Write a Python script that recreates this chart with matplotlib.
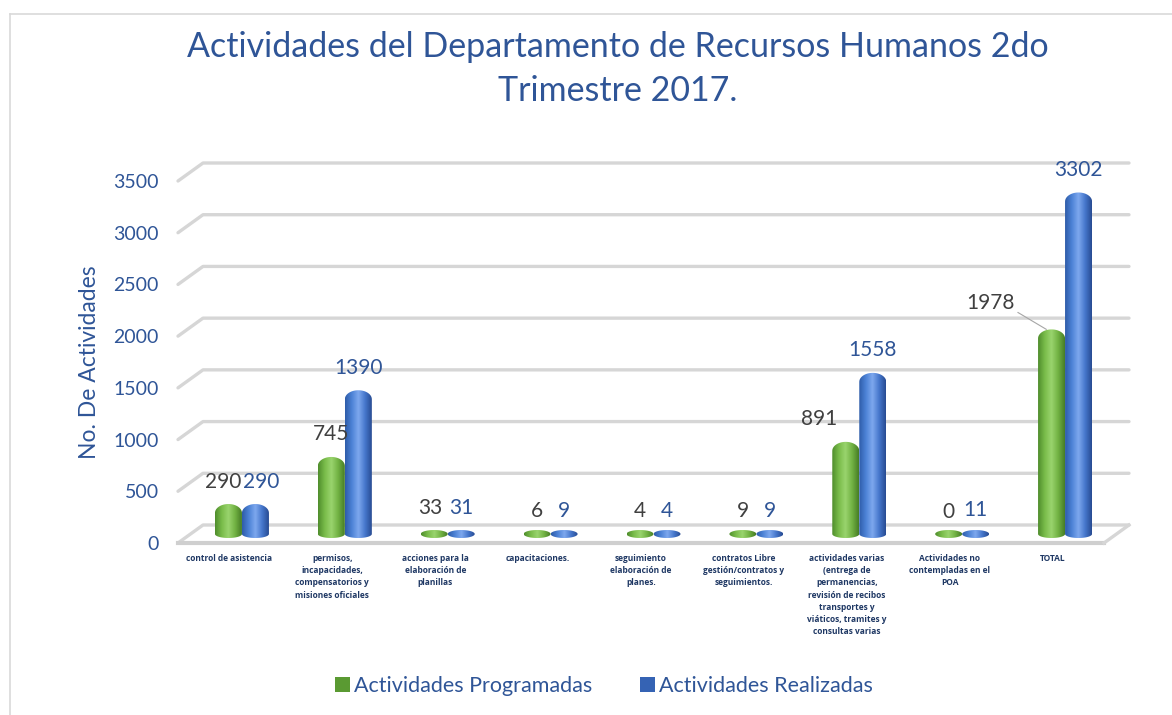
import numpy as np
import matplotlib
matplotlib.use("Agg")
import matplotlib.pyplot as plt
from matplotlib.patches import Polygon, Rectangle
from matplotlib.lines import Line2D
from matplotlib.colors import LinearSegmentedColormap
from matplotlib.transforms import ScaledTranslation

# data
categories = [
    "control de asistencia",
    "permisos,\nincapacidades,\ncompensatorios y\nmisiones oficiales",
    "acciones para la\nelaboración de\nplanillas",
    "capacitaciones.",
    "seguimiento\nelaboración de\nplanes.",
    "contratos Libre\ngestión/contratos y\nseguimientos.",
    "actividades varias\n(entrega de\npermanencias,\nrevisión de recibos\ntransportes y\nviáticos, tramites y\nconsultas varias",
    "Actividades no\ncontempladas en el\nPOA",
    "TOTAL",
]
programadas = [290, 745, 33, 6, 4, 9, 891, 0, 1978]
realizadas = [290, 1390, 31, 9, 4, 9, 1558, 11, 3302]
series_names = ["Actividades Programadas", "Actividades Realizadas"]
y_ticks = [0, 500, 1000, 1500, 2000, 2500, 3000, 3500]

title = "Actividades del Departamento de Recursos Humanos 2do\nTrimestre 2017."
y_label = "No. De Actividades"

plt.rcParams['font.family'] = ['Lato', 'DejaVu Sans']

TXT_BLUE = "#2f5597"
TICK_NAVY = "#1f3864"
GRID = "#d6d6d6"

W, H = 1172, 715
fig = plt.figure(figsize=(W / 100, H / 100), dpi=100)
ax = fig.add_axes([178 / W, (H - 543) / H, 926 / W, 362 / H])
ymax = 3500
px_per_unit = 362 / ymax

# chart border
fig.add_artist(Line2D([10 / W, 10 / W], [0, 1 - 14 / H], color="#d9d9d9", lw=1.2))
fig.add_artist(Line2D([10 / W, 1], [1 - 14 / H, 1 - 14 / H], color="#d9d9d9", lw=1.2))

# pseudo 3D gridlines (front edge at value, back wall shifted)
depth_x = 25 / 926
depth_y = 18 / px_per_unit
gtr = ax.get_yaxis_transform()
for v in y_ticks:
    ax.plot([0, depth_x, 1 + depth_x], [v, v + depth_y, v + depth_y],
            transform=gtr, color=GRID, lw=2.4, clip_on=False, zorder=1,
            solid_capstyle="round")
# floor front edge
ax.plot([0, 1], [0, 0], transform=gtr, color="#cfcfcf", lw=3, clip_on=False, zorder=1)
ax.plot([1, 1 + depth_x], [0, depth_y], transform=gtr, color=GRID, lw=2.4,
        clip_on=False, zorder=1)

# bars sit in the middle of the floor depth
bar_tr = ax.transData + ScaledTranslation(12.5 / 100, 9 / 100, fig.dpi_scale_trans)

green_cmap = LinearSegmentedColormap.from_list(
    "g", ["#4f8c2c", "#79bc4a", "#9ad46e", "#72b243", "#467d25"])
blue_cmap = LinearSegmentedColormap.from_list(
    "b", ["#2e5ca8", "#4c82d6", "#7ea8ee", "#4677cc", "#274b92"])

bw = 27 / 102.9
ry_max = 9 / px_per_unit
ry_min = 4 / px_per_unit


def cylinder(xc, v, cmap):
    ry_top = max(min(ry_max, v), ry_min)
    top_body = max(v - ry_top, 0)
    t1 = np.linspace(np.pi, 2 * np.pi, 30)
    t2 = np.linspace(0, np.pi, 30)
    xs = np.concatenate([xc + bw / 2 * np.cos(t1), xc + bw / 2 * np.cos(t2)])
    ys = np.concatenate([ry_min * np.sin(t1), top_body + ry_top * np.sin(t2)])
    poly = Polygon(np.column_stack([xs, ys]), closed=True, transform=bar_tr,
                   facecolor="none", edgecolor="none")
    ax.add_patch(poly)
    grad = cmap(np.linspace(0, 1, 128))[None, :, :3]
    im = ax.imshow(grad, extent=[xc - bw / 2, xc + bw / 2, -ry_min, top_body + ry_top],
                   aspect="auto", zorder=3, interpolation="bilinear")
    im.set_transform(bar_tr)
    im.set_clip_path(poly)


x = np.arange(len(categories))
for i in range(len(categories)):
    cylinder(x[i] - bw / 2, programadas[i], green_cmap)
    cylinder(x[i] + bw / 2, realizadas[i], blue_cmap)

# data labels
green_dx = [-4, 0, -3, 0, 0, 0, -19, 0, -40]
blue_dx = [4, 0, 0, 0, 0, 0, 0, 0, 0]
for i in range(len(categories)):
    if i == len(categories) - 1:
        ax.annotate(str(programadas[i]), xy=(x[i] - bw / 2 - 0.05, programadas[i]),
                    xycoords=bar_tr, xytext=(green_dx[i], 12), textcoords="offset points",
                    ha="center", va="bottom", fontsize=15, color="#404040",
                    arrowprops=dict(arrowstyle="-", color="#a6a6a6", lw=0.8,
                                    shrinkA=0, shrinkB=0, relpos=(1.0, 0.1)))
    else:
        ax.annotate(str(programadas[i]), xy=(x[i] - bw / 2, programadas[i]),
                    xycoords=bar_tr, xytext=(green_dx[i], 9), textcoords="offset points",
                    ha="center", va="bottom", fontsize=15, color="#404040")
    ax.annotate(str(realizadas[i]), xy=(x[i] + bw / 2, realizadas[i]),
                xycoords=bar_tr, xytext=(blue_dx[i], 9), textcoords="offset points",
                ha="center", va="bottom", fontsize=15, color=TXT_BLUE)

ax.set_xlim(-0.5, 8.5)
ax.set_ylim(0, ymax)
ax.set_yticks(y_ticks)
ax.set_xticks(x)
ax.set_xticklabels(categories, fontsize=6, fontweight="bold", color=TICK_NAVY,
                   linespacing=1.45, va="top", family=["Open Sans", "DejaVu Sans"])
ax.tick_params(axis="x", length=0, pad=8)
ax.tick_params(axis="y", length=0, pad=14, labelsize=14, labelcolor=TXT_BLUE)
for s in ax.spines.values():
    s.set_visible(False)
ax.set_ylabel(y_label, fontsize=16.5, color=TXT_BLUE)
ax.yaxis.set_label_coords(-78 / 926, 0.5)

fig.text(618 / W, 1 - 69 / H, title, ha="center", va="center", fontsize=24.5,
         color=TXT_BLUE, linespacing=1.45)

handles = [Rectangle((0, 0), 1, 1, facecolor="#5a9a32"),
           Rectangle((0, 0), 1, 1, facecolor="#3563b4")]
fig.legend(handles, series_names, loc="center", bbox_to_anchor=(604 / W, 1 - 686 / H),
           ncol=2, frameon=False, fontsize=15.5, labelcolor=TXT_BLUE,
           handlelength=0.7, handleheight=0.7, handletextpad=0.2, columnspacing=2.2)

fig.savefig("out.png", dpi=100)
